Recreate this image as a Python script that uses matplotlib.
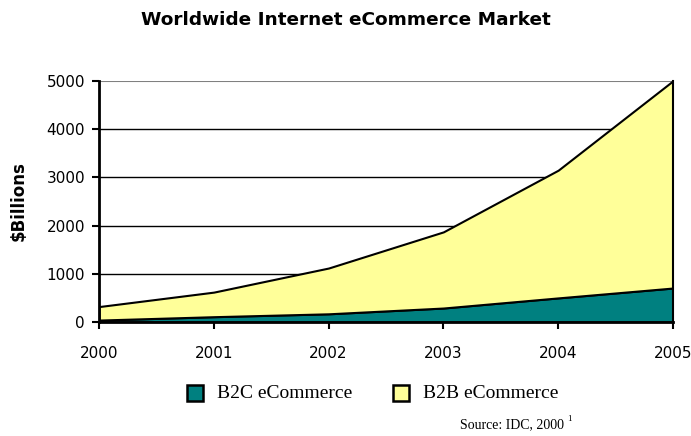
import matplotlib
matplotlib.use("Agg")
import matplotlib.pyplot as plt
from matplotlib.patches import Rectangle

years = [2000, 2001, 2002, 2003, 2004, 2005]
b2c = [40, 110, 170, 290, 500, 705]
b2b = [280, 510, 950, 1580, 2650, 4300]
yticks = [0, 1000, 2000, 3000, 4000, 5000]

sans = ["DejaVu Sans"]
serif = ["Liberation Serif", "DejaVu Serif"]

W, H = 691, 436
fig = plt.figure(figsize=(W / 100, H / 100), dpi=100)
ax = fig.add_axes([99 / W, 1 - 322 / H, 574 / W, 241 / H])

ax.stackplot(years, b2c, b2b, colors=["#008080", "#FFFF99"],
             edgecolor="black", linewidth=1.5)
ax.set_xlim(2000, 2005)
ax.set_ylim(0, 5000)
ax.set_yticks(yticks)
ax.set_xticks(years)
for yv in yticks[1:-1]:
    ax.axhline(yv, color="black", linewidth=1, zorder=0)
ax.axhline(5000, color="#808080", linewidth=1.5, zorder=0)
for s in ["top", "right"]:
    ax.spines[s].set_visible(False)
for s in ["left", "bottom"]:
    ax.spines[s].set_linewidth(2)
ax.plot([2005, 2005], [0, 5000], color="black", linewidth=1.5, clip_on=False)
ax.tick_params(axis="both", direction="out", length=5, width=1.5, labelsize=11)
ax.tick_params(axis="x", pad=12)
ax.tick_params(axis="y", pad=5)
for lab in ax.get_xticklabels() + ax.get_yticklabels():
    lab.set_family(sans)
ax.set_ylabel("$Billions", fontsize=12, fontweight="bold", family=sans)
ax.yaxis.set_label_coords(-(99 - 28) / 574, 0.5)

fig.text(0.5, 1 - 20 / H, "Worldwide Internet eCommerce Market", ha="center", va="center",
         fontsize=13.3, fontweight="bold", family=sans)

# legend
for x0, col, lab in [(187, "#008080", "B2C eCommerce"), (393, "#FFFF99", "B2B eCommerce")]:
    fig.patches.append(Rectangle((x0 / W, 1 - 401 / H), 16 / W, 16 / H,
                                 transform=fig.transFigure, facecolor=col,
                                 edgecolor="black", linewidth=1.8))
    fig.text((x0 + 30) / W, 1 - 393 / H, lab, ha="left", va="center",
             fontsize=14, family=serif)

fig.text(460 / W, 1 - 425 / H, "Source: IDC, 2000", ha="left", va="center",
         fontsize=10, family=serif)
fig.text(567 / W, 1 - 419 / H, "1", ha="left", va="center", fontsize=6.5, family=serif)

fig.savefig("out.png", dpi=100)
